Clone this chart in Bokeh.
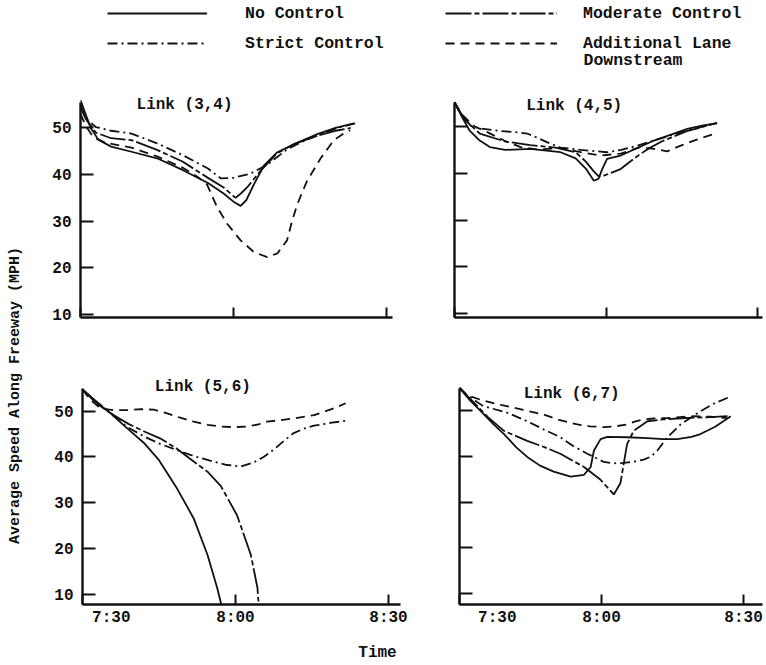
from bokeh.plotting import figure
from bokeh.models import (Range1d, FixedTicker, Label, Legend, LegendItem)
from bokeh.layouts import column, row
from bokeh.embed import file_html
from bokeh.resources import INLINE

# ---------------- data (time in minutes after 7:00, speed in MPH) ----------------
x_ticks = [30, 60, 90]
x_tick_labels = ["7:30", "8:00", "8:30"]
y_ticks = [10, 20, 30, 40, 50]

series_names = ["No Control", "Moderate Control", "Strict Control", "Additional Lane"]

# Link (3,4)
l34_no_t = [30, 31, 32, 33.5, 36, 40, 45, 50, 55, 58, 60, 61.4, 62.5, 64, 66, 68.6, 72, 76, 80, 83.6]
l34_no_v = [56, 53, 50, 47.5, 46, 44.9, 43.5, 41, 38.2, 36, 34.2, 33.3, 34.5, 37.9, 42, 44.8, 46.6, 48.5, 50, 51]
l34_mod_t = [30, 31, 33, 36, 40, 45, 50, 55, 58, 60.4, 61.5, 62.7, 65.3, 68.6, 72, 76, 80, 83]
l34_mod_v = [55, 52, 49, 47.8, 47.4, 45.3, 42.8, 39.3, 37.3, 35, 36, 37.3, 40.8, 44.6, 46.6, 48.2, 49.4, 50]
l34_str_t = [30, 31, 33, 36, 40, 45, 50, 55, 57.5, 60, 63.3, 66.6, 70.5, 74, 78, 81, 84]
l34_str_v = [54.5, 52, 50.2, 49.4, 48.8, 46.7, 44.2, 41.3, 39.2, 39.3, 40.2, 42.1, 45.4, 47.3, 49, 50.2, 51]
l34_add_t = [30, 31, 32.5, 35, 40, 45, 50, 53, 54.8, 56.8, 58.8, 61.4, 64, 66.6, 68.6, 70.5, 71.5, 72.5, 74.4, 77.1, 79.7, 81.6, 82.9]
l34_add_v = [53, 50.5, 48, 46.8, 45.8, 43.9, 41.5, 39.5, 37.9, 33, 29.4, 25.9, 23.4, 22.3, 23.1, 25.9, 30.1, 33.6, 38.6, 43.5, 47.4, 48.8, 49.5]

# Link (4,5)
l45_no_t = [30, 31.5, 33, 35, 37, 40, 45, 51, 54, 56, 57.6, 58.5, 59.3, 60.2, 62.9, 66, 69.5, 73, 76.1, 79, 82]
l45_no_v = [55.2, 52, 49.1, 47, 45.6, 45, 45.2, 44.5, 43.2, 41, 38.4, 38.8, 41, 43.1, 43.8, 45.3, 47, 48.3, 49.5, 50.2, 50.7]
l45_mod_t = [30, 32, 35, 40, 45, 50, 54, 56, 57.5, 58.6, 59.6, 61, 62.9, 65.5, 68, 71, 76, 82]
l45_mod_v = [55.2, 51.5, 48.5, 46.8, 46, 45.5, 44.5, 42.5, 40.5, 39.3, 39.5, 40.1, 40.9, 43.1, 45, 46.8, 49, 50.8]
l45_str_t = [30, 31, 33.2, 35, 38.5, 42, 44.4, 46, 48.4, 51, 55, 60.2, 63, 66.2, 69.5, 72.8, 77, 81.4]
l45_str_v = [55.2, 53, 50.2, 49.6, 49.1, 48.8, 48.5, 47.8, 46.6, 45.5, 45, 44.5, 45, 45.9, 47, 48.1, 49.4, 50.6]
l45_add_t = [30, 31.5, 34, 36.5, 39.8, 43.1, 46.4, 51, 55, 58.9, 62.9, 66.8, 69.5, 72.1, 74.8, 77.4, 81.4]
l45_add_v = [55.2, 52.5, 50, 48.8, 47, 45.6, 45.1, 45.4, 44.5, 43.8, 44.2, 45.6, 45.2, 44.7, 45.9, 47, 48.4]

# Link (5,6)
l56_no_t = [30, 32, 35.5, 39, 42, 45, 48.6, 51.8, 54.5, 56.4, 57.2]
l56_no_v = [54.7, 52.5, 49.5, 46, 43.1, 39.3, 33, 26.6, 18.7, 11.5, 7.9]
l56_mod_t = [30, 33, 36, 39, 42, 45.3, 48.5, 51.8, 54.5, 57.1, 60.3, 63, 64.3, 64.5]
l56_mod_v = [54.7, 51.8, 49.2, 47.2, 45.6, 44, 41.8, 39, 36.8, 33.7, 27.3, 18.7, 11.5, 8.5]
l56_str_t = [30, 33, 35.5, 38.8, 42, 45.3, 48.5, 51.8, 55, 58, 61, 63.6, 65.5, 67.5, 69.5, 71.4, 73.5, 75.4, 78.5, 81.9]
l56_str_v = [54.7, 51.5, 49.5, 46.5, 44.5, 42.8, 41.5, 40.2, 39.2, 38.3, 37.9, 38.8, 40, 41.6, 43.5, 45.2, 46.2, 46.8, 47.4, 47.9]
l56_add_t = [30, 31.5, 33.5, 36, 38.8, 41.5, 44, 46.6, 49, 51.8, 54.5, 57.1, 59.7, 62.3, 64.5, 66.2, 68.8, 71.4, 75.4, 79.3, 81.6]
l56_add_v = [54.7, 52.5, 50.6, 50.2, 50.2, 50.4, 50.3, 49.5, 48.6, 47.7, 47, 46.6, 46.5, 46.6, 47.1, 47.7, 48, 48.4, 49.1, 50.6, 51.7]

# Link (6,7)
l67_no_t = [30, 32, 34.4, 37.2, 39.4, 42, 44.3, 47, 49.9, 53.5, 56.3, 57.7, 58.4, 59.8, 61.2, 65.4, 69.7, 73, 76, 79, 80.9, 84, 87.3]
l67_no_v = [55, 52.5, 50, 47, 44.9, 42, 39.9, 38, 36.7, 35.6, 36, 37.7, 41.3, 43.8, 44.3, 44.2, 44, 43.8, 43.8, 44.3, 44.9, 46.5, 48.8]
l67_mod_t = [30, 33, 36, 39.4, 44.3, 47.8, 51.3, 56.3, 59.8, 62.6, 64, 64.7, 65.4, 66.8, 69.7, 73, 76, 80, 83, 86.6]
l67_mod_v = [55, 51.8, 48.6, 45.6, 43.4, 42.1, 40.6, 37.7, 34.9, 31.7, 34.2, 38.5, 42.7, 45.6, 47.7, 48.1, 48.3, 48.5, 48.6, 48.8]
l67_str_t = [30, 31.6, 35, 40, 44.3, 47.8, 51.3, 54, 57, 60.5, 62.5, 64.7, 67, 68.9, 70.5, 71.8, 73.9, 76.7, 80.9, 84, 87.3]
l67_str_v = [55, 53.4, 51, 49.6, 47.7, 45.9, 44.2, 42.3, 40.6, 38.8, 38.5, 38.6, 38.9, 39.3, 40, 41.3, 44.2, 47, 49.9, 51.7, 53.1]
l67_add_t = [30, 31.6, 35, 38.7, 43, 47.8, 51, 54.9, 57.5, 60.5, 63, 65.4, 67, 68.9, 71, 73.9, 76.5, 79.5, 83, 86.6]
l67_add_v = [55, 53.4, 52.2, 51.3, 50.3, 49.15, 48, 47, 46.6, 46.4, 46.6, 47, 47.6, 48.1, 48.3, 48.4, 48.6, 48.8, 48.7, 48.4]

# ---------------- styles ----------------
FONT = "Liberation Mono"
INK = "#111111"
DASHES = ["solid", "26 3 5 3", "10 4 2 4", "9 6"]
LW = 1.8


def panel(title, data, xr, yr, ytop, w, h, borders, xlabels, ylabels, title_xy):
    p = figure(width=w, height=h, x_range=Range1d(*xr), y_range=Range1d(yr[0], ytop),
               output_backend="svg", toolbar_location=None,
               min_border_left=borders[0], min_border_right=borders[1],
               min_border_top=borders[2], min_border_bottom=borders[3])
    p.outline_line_color = None
    p.grid.visible = False
    p.background_fill_color = "white"
    p.border_fill_color = "white"
    for (t, v), dash in zip(data, DASHES):
        p.line(t, v, line_color=INK, line_width=LW, line_dash=dash)

    xa, ya = p.xaxis[0], p.yaxis[0]
    xa.ticker = FixedTicker(ticks=x_ticks)
    ya.ticker = FixedTicker(ticks=y_ticks)
    ya.bounds = yr
    for ax in (xa, ya):
        ax.axis_line_width = 2.4
        ax.axis_line_color = INK
        ax.major_tick_line_color = INK
        ax.major_tick_line_width = 2
        ax.major_tick_out = 0
        ax.minor_tick_line_color = None
        ax.major_label_text_font = FONT
        ax.major_label_text_font_size = "16px"
        ax.major_label_text_font_style = "bold"
        ax.major_label_text_color = INK
    xa.major_tick_in = 10
    ya.major_tick_in = 13
    ya.major_label_standoff = 9
    xa.major_label_standoff = 4
    if xlabels:
        ov = dict(zip(x_ticks, x_tick_labels))
        ov[x_ticks[0]] = "\u00a0" * 6 + x_tick_labels[0]
        xa.major_label_overrides = ov
    else:
        xa.major_label_overrides = {t: "" for t in x_ticks}
    if not ylabels:
        ya.major_label_overrides = {t: "" for t in y_ticks}

    p.add_layout(Label(x=title_xy[0], y=title_xy[1], text=title, text_font=FONT,
                       text_font_size="16px", text_font_style="bold", text_color=INK,
                       text_align="center", text_baseline="middle"))
    return p


tl = panel("Link (3,4)",
           [(l34_no_t, l34_no_v), (l34_mod_t, l34_mod_v), (l34_str_t, l34_str_v), (l34_add_t, l34_add_v)],
           (30, 91.18), (9.365, 55.5), 58.46, 390, 262, (50, 28, 8, 22), False, True, (50.4, 54.9))
tr = panel("Link (4,5)",
           [(l45_no_t, l45_no_v), (l45_mod_t, l45_mod_v), (l45_str_t, l45_str_v), (l45_add_t, l45_add_v)],
           (30, 90.99), (9.14, 55.14), 58.135, 346, 262, (34, 4, 10, 23), False, False, (53.7, 54.3))
bl = panel("Link (5,6)",
           [(l56_no_t, l56_no_v), (l56_mod_t, l56_mod_v), (l56_str_t, l56_str_v), (l56_add_t, l56_add_v)],
           (30, 92.35), (7.85, 54.95), 57.96, 390, 300, (52, 20, 34, 33), True, True, (53.6, 55.2))
br = panel("Link (6,7)",
           [(l67_no_t, l67_no_v), (l67_mod_t, l67_mod_v), (l67_str_t, l67_str_v), (l67_add_t, l67_add_v)],
           (30, 94.0), (7.65, 54.92), 57.915, 346, 300, (39, 4, 29, 36), True, False, (53.7, 53.6))


def blank(w, h):
    f = figure(width=w, height=h, x_range=Range1d(0, w), y_range=Range1d(0, h),
               output_backend="svg", toolbar_location=None, min_border=0)
    f.axis.visible = False
    f.grid.visible = False
    f.outline_line_color = None
    return f


# legend strip (legend entries drawn from hidden copies of the Link (3,4) series)
lg = blank(766, 78)
leg_series = [(l34_no_t, l34_no_v), (l34_mod_t, l34_mod_v), (l34_str_t, l34_str_v), (l34_add_t, l34_add_v)]
rends = []
for (t, v), d in zip(leg_series, DASHES):
    r = lg.line(t, v, line_color=INK, line_width=LW, line_dash=d)
    r.visible = False
    rends.append(r)
common = dict(padding=0, margin=0, spacing=10, glyph_height=20, label_height=20,
              border_line_color=None, background_fill_alpha=0, label_text_font=FONT,
              label_text_font_size="16.5px", label_text_font_style="bold",
              label_text_color=INK, orientation="vertical", inactive_fill_alpha=0)
leg1 = Legend(items=[LegendItem(label=series_names[0], renderers=[rends[0]]),
                     LegendItem(label=series_names[2], renderers=[rends[2]])],
              location=(107, 25), glyph_width=100, label_standoff=38, **common)
leg2 = Legend(items=[LegendItem(label=series_names[1], renderers=[rends[1]]),
                     LegendItem(label=series_names[3], renderers=[rends[3]])],
              location=(445, 25), glyph_width=112, label_standoff=26, **common)
lg.add_layout(leg1)
lg.add_layout(leg2)
lg.add_layout(Label(x=583, y=18, text="Downstream", text_font=FONT, text_font_size="16.5px",
                    text_font_style="bold", text_color=INK, text_baseline="middle"))

# y-axis title strip
ys = blank(30, 562)
ys.add_layout(Label(x=15, y=245, text="Average Speed Along Freeway (MPH)", angle=90,
                    angle_units="deg", text_font=FONT, text_font_size="15px",
                    text_font_style="bold", text_color=INK, text_align="center",
                    text_baseline="middle"))

# x-axis title strip
ts = blank(766, 24)
ts.add_layout(Label(x=377, y=12, text="Time", text_font=FONT, text_font_size="16px",
                    text_font_style="bold", text_color=INK, text_align="center",
                    text_baseline="middle"))

layout = column(lg, row(ys, column(row(tl, tr), row(bl, br))), ts)

open("out.html", "w").write(file_html(layout, INLINE))
